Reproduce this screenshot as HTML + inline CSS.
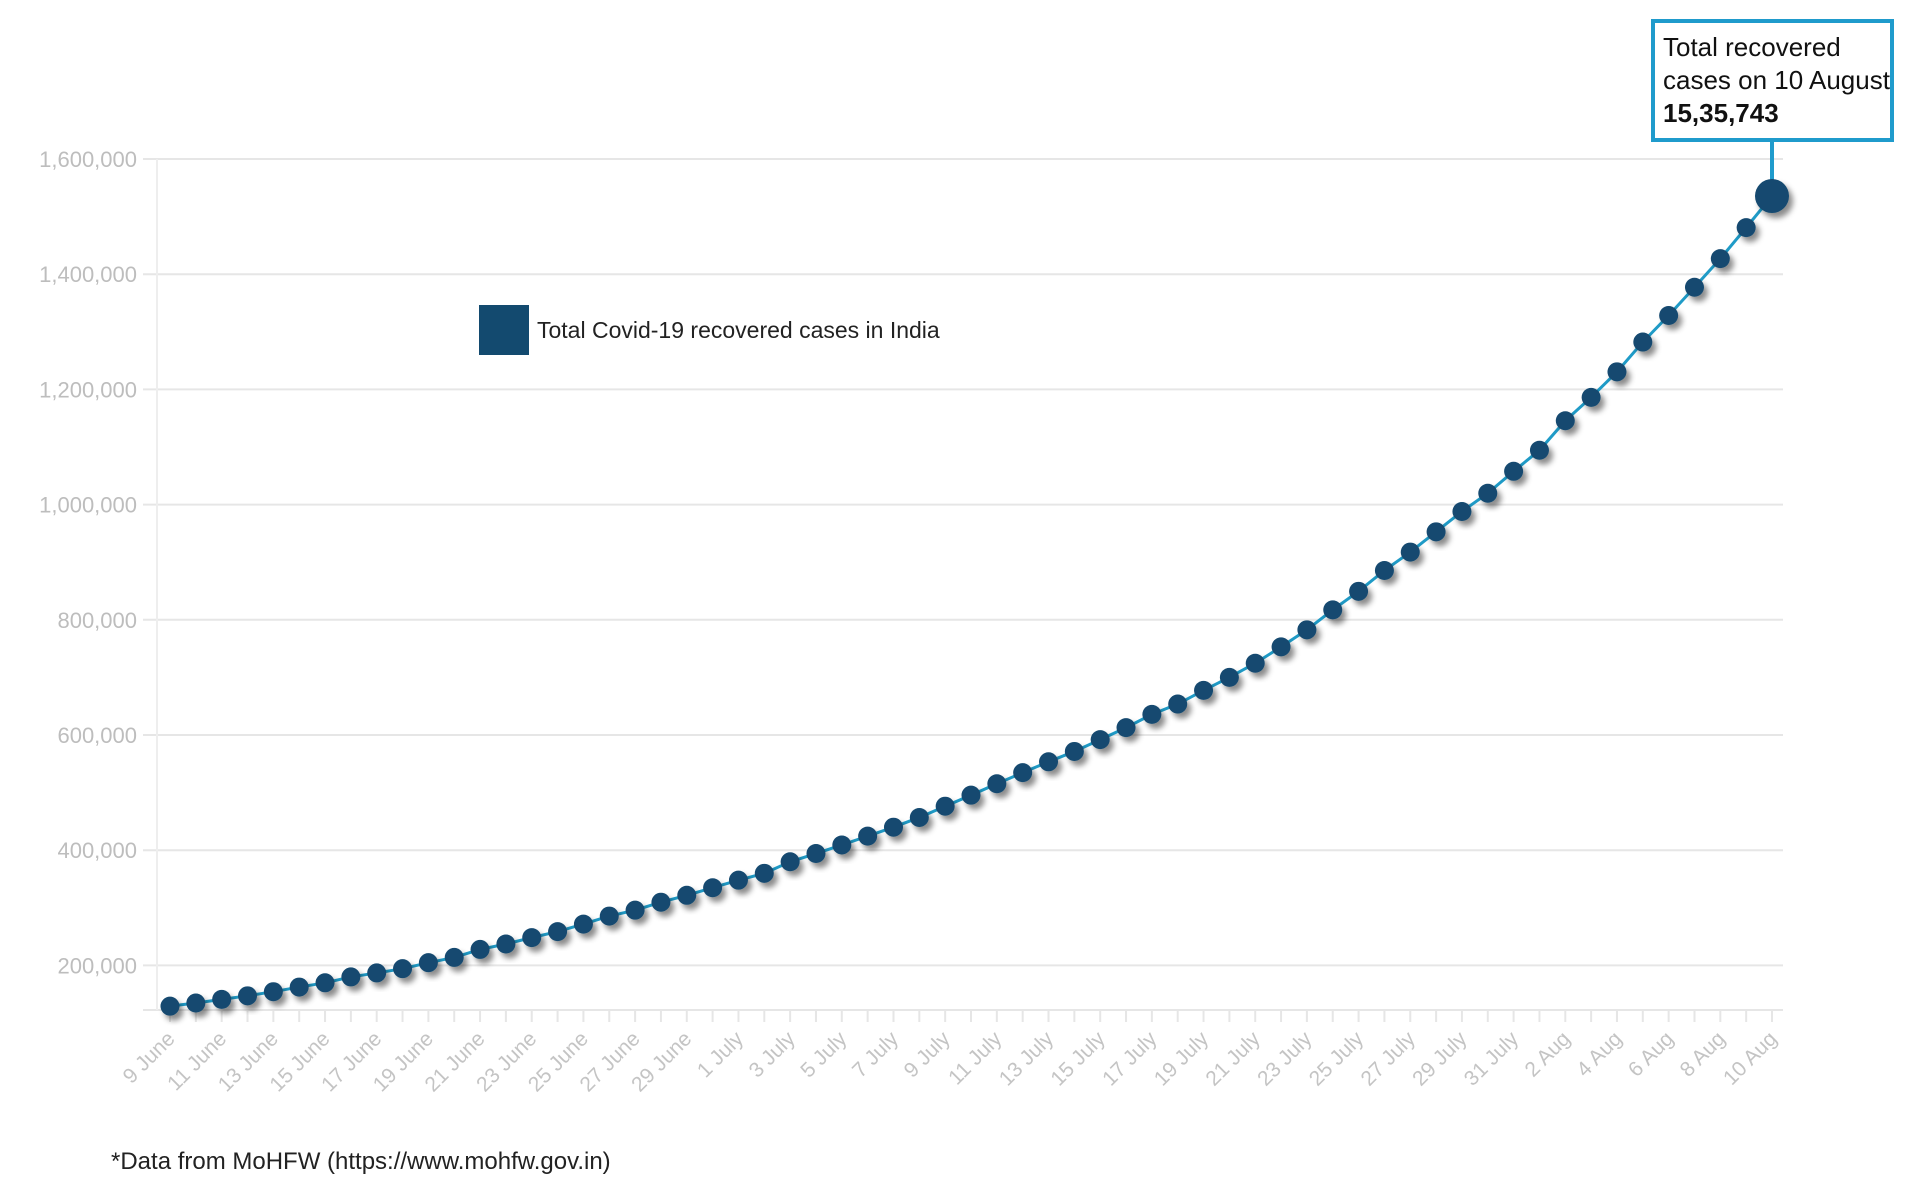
<!DOCTYPE html>
<html><head><meta charset="utf-8"><style>
html,body{margin:0;padding:0;background:#fff;}
body{width:1920px;height:1191px;overflow:hidden;position:relative;font-family:"Liberation Sans",sans-serif;}
</style></head><body>
<svg id="chart" width="1920" height="1191" viewBox="0 0 1920 1191" xmlns="http://www.w3.org/2000/svg" style="position:absolute;left:0;top:0">
<defs><filter id="sh" x="-50%" y="-50%" width="200%" height="200%"><feDropShadow dx="4" dy="5" stdDeviation="3" flood-color="#000" flood-opacity="0.45"/></filter></defs>
<g id="grid"></g>
<g id="yticks"></g>
<g id="xticks"></g>
<g id="series"></g>
<g>
<rect x="479" y="305" width="50" height="50" fill="#134a6f"/>
<text x="537" y="338" font-size="23" fill="#222">Total Covid-19 recovered cases in India</text>
</g>
<g id="annot">
<rect x="1653" y="21" width="239" height="119" fill="#fff" stroke="#1f9bcc" stroke-width="4"/>
<text font-size="26" fill="#111"><tspan x="1663" y="56">Total recovered</tspan><tspan x="1663" y="89">cases on 10 August</tspan><tspan x="1663" y="122" font-weight="bold">15,35,743</tspan></text>
</g>
<text x="111" y="1169" font-size="24" fill="#222">*Data from MoHFW (https://www.mohfw.gov.in)</text>
</svg>
<script>
const categories=["9 June","10 June","11 June","12 June","13 June","14 June","15 June","16 June","17 June","18 June","19 June","20 June","21 June","22 June","23 June","24 June","25 June","26 June","27 June","28 June","29 June","30 June","1 July","2 July","3 July","4 July","5 July","6 July","7 July","8 July","9 July","10 July","11 July","12 July","13 July","14 July","15 July","16 July","17 July","18 July","19 July","20 July","21 July","22 July","23 July","24 July","25 July","26 July","27 July","28 July","29 July","30 July","31 July","1 Aug","2 Aug","3 Aug","4 Aug","5 Aug","6 Aug","7 Aug","8 Aug","9 Aug","10 Aug"];
const recovered=[129215,134670,141029,147195,154330,162379,169798,180013,186935,194325,204711,213831,227756,237196,248190,258685,271697,285637,295881,309713,321723,334822,347979,359860,379892,394227,409083,424433,439948,456831,476378,495513,515386,534621,553471,571460,592032,612815,635757,653751,677423,700087,724578,753050,782607,817209,849432,885577,917568,952744,988030,1019735,1057806,1094374,1145630,1186203,1230509,1282216,1328336,1377384,1427005,1480884,1535743];
const yTicks=[200000,400000,600000,800000,1000000,1200000,1400000,1600000];
const yTickLabels=["200,000","400,000","600,000","800,000","1,000,000","1,200,000","1,400,000","1,600,000"];
const NS="http://www.w3.org/2000/svg";
const x0=170,x1=1772,plotL=157,plotR=1783,base=1010;
const X=i=>x0+i*(x1-x0)/(categories.length-1);
const Y=v=>159+(1600000-v)/200000*115.2;
function mk(t,a,p){const e=document.createElementNS(NS,t);for(const k in a)e.setAttribute(k,a[k]);p.appendChild(e);return e;}
const grid=document.getElementById('grid'),yt=document.getElementById('yticks'),xt=document.getElementById('xticks'),ser=document.getElementById('series');
yTicks.forEach((v,i)=>{
 const l=mk('line',{x1:plotL-14,x2:plotR,y1:Y(v),y2:Y(v),stroke:'#e6e6e6','stroke-width':2},grid);
 
 
 const t=mk('text',{x:137,y:Y(v)+8,'text-anchor':'end','font-size':22,fill:'#bdbdbd'},yt);
 
 
 t.textContent=yTickLabels[i];
});
const ax=mk('line',{x1:plotL-14,x2:plotR,y1:base,y2:base,stroke:'#e6e6e6','stroke-width':2},grid);


const va=mk('line',{x1:plotL,x2:plotL,y1:159,y2:base,stroke:'#eeeeee','stroke-width':2},grid);


categories.forEach((c,i)=>{
 const tk=mk('line',{x1:X(i),x2:X(i),y1:base,y2:base+12,stroke:'#e6e6e6','stroke-width':2},xt);
 
 
 if(i%2===0){
  const t=mk('text',{x:0,y:0,'text-anchor':'end','font-size':21,fill:'#c4c4c4',transform:`translate(${X(i)+6},${base+30}) rotate(-45)`},xt);
  
  
  t.textContent=c;
 }
});
const pts=recovered.map((v,i)=>X(i)+','+Y(v)).join(' ');
const pl=mk('polyline',{points:pts,fill:'none',stroke:'#1f9bc7','stroke-width':3},ser);


const last=recovered.length-1;
const cl=mk('line',{x1:X(last),x2:X(last),y1:140,y2:Y(recovered[last]),stroke:'#1f9bcc','stroke-width':4},ser);


recovered.forEach((v,i)=>{
 const d=mk('circle',{cx:X(i),cy:Y(v),r:i===last?17:9.5,fill:'#134a6f',filter:'url(#sh)'},ser);
 
 
});
</script>
</body></html>
